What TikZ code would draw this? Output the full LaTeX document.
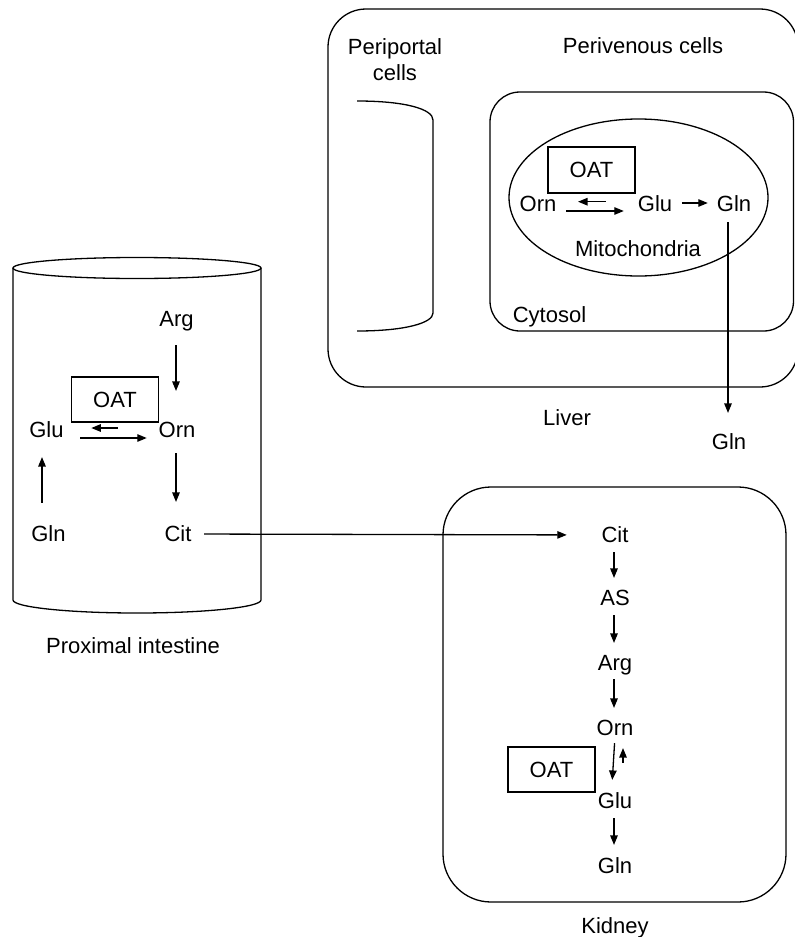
\documentclass[tikz,border=0pt]{standalone}
\usepackage{fontspec}
\setmainfont{Liberation Sans}
\usetikzlibrary{arrows.meta}
\begin{document}
\begin{tikzpicture}[x=1pt,y=-1pt,
  lbl/.style={inner sep=0pt,text height=15.75pt,text depth=0pt,font=\fontsize{22}{26}\selectfont},
  mlbl/.style={inner sep=0pt,align=center,font=\fontsize{22}{26}\selectfont},
  oat/.style={draw,line width=1.3pt,inner sep=0pt,minimum width=87pt,minimum height=45pt,font=\fontsize{22}{26}\selectfont},
  cont/.style={line width=1.3pt},
  arr/.style={line width=1.3pt,-{Triangle[length=9.5pt,width=7.5pt]}}
]
\useasboundingbox (0,0) rectangle (795,937);

% ---------------- Liver ----------------
\draw[cont,rounded corners=38pt] (328,9) rectangle (798,387);
\draw[cont,rounded corners=30pt] (490,92) rectangle (793.5,331);
\draw[cont] (638.5,197.5) ellipse [x radius=129.5, y radius=78.5];
\draw[cont] (357,101) .. controls (405,101) and (433,109) .. (433,120)
  -- (433,313) .. controls (433,323) and (405,331) .. (357,331);

\node[mlbl,anchor=north] (periportal) at (395,38) {Periportal\\cells};
\node[lbl] (perivenous) at (643,46) {Perivenous cells};
\node[oat,minimum height=46pt] (lOAT) at (591.5,170) {OAT};
\node[lbl] (lOrn) at (538,204) {Orn};
\node[lbl] (lGlu) at (655,204) {Glu};
\node[lbl] (lGln) at (734,204) {Gln};
\node[lbl] (mito) at (638,249) {Mitochondria};
\node[lbl] (cytosol) at (549.5,315) {Cytosol};
\node[lbl] (liver) at (567,418) {Liver};
\node[lbl] (oGln) at (729,442) {Gln};

\draw[arr,shorten <=32pt,shorten >=21.5pt] ([yshift=2.3pt]lGlu.west) -- ([yshift=2.3pt]lOrn.east);
\draw[arr,shorten <=9.7pt,shorten >=13.9pt] ([yshift=-7pt]lOrn.east) -- ([yshift=-7pt]lGlu.west);
\draw[arr,shorten <=9.6pt,shorten >=8.9pt] ([yshift=1pt]lGlu.east) -- ([yshift=1pt]lGln.west);
\draw[arr,shorten <=10pt,shorten >=21pt] ([xshift=-6pt]lGln.south) -- ([xshift=-1pt]oGln.north);

% ---------------- Proximal intestine ----------------
\draw[cont] (137,268) ellipse [x radius=124, y radius=10.5];
\draw[cont] (13,268) -- (13,600) arc [start angle=180, end angle=0, x radius=124, y radius=13] -- (261,268);

\node[lbl] (iArg) at (176.5,319) {Arg};
\node[oat] (iOAT) at (115,399.5) {OAT};
\node[lbl] (iGlu) at (46.5,430) {Glu};
\node[lbl] (iOrn) at (177,430) {Orn};
\node[lbl] (iGln) at (48.5,534) {Gln};
\node[lbl] (iCit) at (178,534) {Cit};
\node[lbl] (intestine) at (133,646) {Proximal intestine};

\draw[arr,shorten <=18pt,shorten >=31pt] ([xshift=-0.5pt]iArg.south) -- ([xshift=-1pt]iOrn.north);
\draw[arr,shorten <=15pt,shorten >=24pt] ([xshift=-1pt]iOrn.south) -- ([xshift=-2pt]iCit.north);
\draw[arr,shorten <=23pt,shorten >=19pt] ([xshift=-6.5pt]iGln.north) -- ([xshift=-4.5pt]iGlu.south);
\draw[arr,shorten <=40.5pt,shorten >=27.5pt] ([yshift=2pt]iOrn.west) -- ([yshift=2pt]iGlu.east);
\draw[arr,shorten <=16.4pt,shorten >=11.7pt] ([yshift=-8pt]iGlu.east) -- ([yshift=-8pt]iOrn.west);

% ---------------- Kidney ----------------
\draw[cont,rounded corners=48pt] (443,487) rectangle (786,902);

\node[lbl] (kCit) at (615,535) {Cit};
\node[lbl] (kAS) at (615,598) {AS};
\node[lbl] (kArg) at (615,663) {Arg};
\node[lbl] (kOrn) at (615,728) {Orn};
\node[oat] (kOAT) at (551.5,769.5) {OAT};
\node[lbl] (kGlu) at (615,801) {Glu};
\node[lbl] (kGln) at (615,866) {Gln};
\node[lbl] (kidney) at (615,926) {Kidney};

\draw[arr,shorten <=9pt,shorten >=12pt] ([xshift=-1pt]kCit.south) -- ([xshift=-1pt]kAS.north);
\draw[arr,shorten <=9pt,shorten >=12pt] ([xshift=-1pt]kAS.south) -- ([xshift=-1pt]kArg.north);
\draw[arr,shorten <=8pt,shorten >=12pt] ([xshift=-1pt]kArg.south) -- ([xshift=-1pt]kOrn.north);
\draw[arr,shorten <=7pt,shorten >=13pt] (kOrn.south) -- ([xshift=-3.5pt]kGlu.north);
\draw[arr,shorten <=30pt,shorten >=12pt] ([xshift=8pt]kGlu.north) -- ([xshift=8pt]kOrn.south);
\draw[arr,shorten <=9pt,shorten >=13pt] ([xshift=-1pt]kGlu.south) -- ([xshift=-1pt]kGln.north);

% ---------------- Transport ----------------
\draw[arr,shorten <=12.6pt,shorten >=34.6pt] (iCit.east) -- (kCit.west);
\end{tikzpicture}
\end{document}
